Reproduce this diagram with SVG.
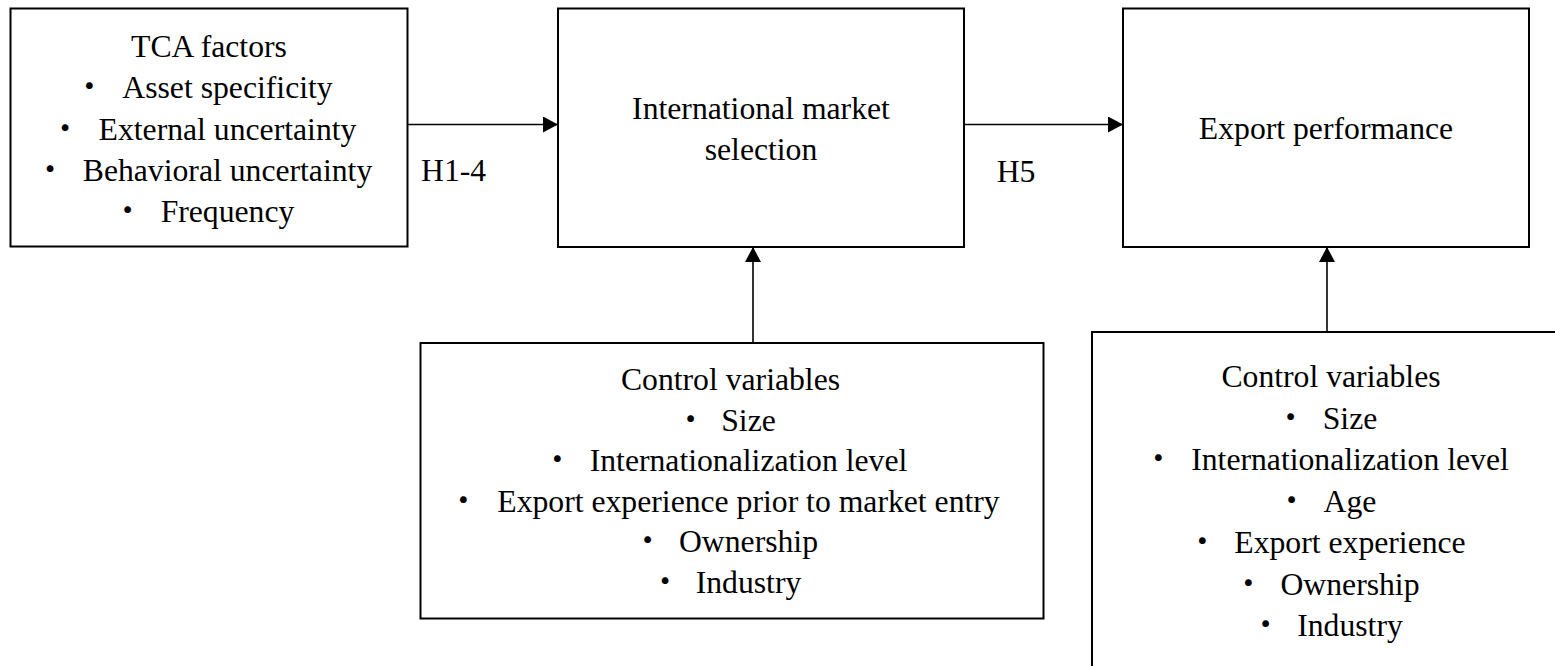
<svg xmlns="http://www.w3.org/2000/svg" width="1555" height="666" viewBox="0 0 1555 666">
<defs>
<style>
.box{fill:#fff;stroke:#000;stroke-width:2}
.t{font-family:"Liberation Serif","Times New Roman","Noto Sans CJK JP",serif;font-size:31.7px;fill:#000}
.c{text-anchor:middle}
.b{font-family:"Noto Sans CJK JP","Liberation Serif",serif;font-size:31.7px;text-anchor:middle;fill:#000}
.con{stroke:#000;stroke-width:1.6;fill:none;marker-end:url(#ah)}
</style>
<marker id="ah" markerUnits="userSpaceOnUse" markerWidth="16" markerHeight="16" viewBox="0 0 15 16" refX="15" refY="8" orient="auto">
<path d="M0,0 L15,8 L0,16 z" fill="#000"/>
</marker>
</defs>
<rect width="1555" height="666" fill="#fff"/>

<g id="tca">
<rect class="box" x="10.5" y="8.5" width="397" height="238"/>
<text class="t c" x="209" y="56.5">TCA factors</text>
<text class="b" x="89.3" y="98">・</text><text class="t c" x="227.5" y="98">Asset specificity</text>
<text class="b" x="65" y="139.5">・</text><text class="t c" x="227.5" y="139.5">External uncertainty</text>
<text class="b" x="50" y="181">・</text><text class="t c" x="227.5" y="181">Behavioral uncertainty</text>
<text class="b" x="127.7" y="222">・</text><text class="t c" x="227.5" y="222">Frequency</text>
</g>

<g id="ims">
<rect class="box" x="558" y="8.5" width="406" height="238.5"/>
<text class="t c" x="761" y="118.5">International market</text>
<text class="t c" x="761" y="159.5">selection</text>
</g>

<g id="ep">
<rect class="box" x="1123" y="8.5" width="406" height="238.5"/>
<text class="t c" x="1326" y="138.5">Export performance</text>
</g>

<g id="ctrl1">
<rect class="box" x="420.5" y="343" width="623" height="275.5"/>
<text class="t c" x="730.5" y="390">Control variables</text>
<text class="b" x="690.7" y="430.5">・</text><text class="t c" x="748.5" y="430.5">Size</text>
<text class="b" x="557.3" y="471">・</text><text class="t c" x="748.5" y="471">Internationalization level</text>
<text class="b" x="463.3" y="511.5">・</text><text class="t c" x="748.5" y="511.5">Export experience prior to market entry</text>
<text class="b" x="647.7" y="552">・</text><text class="t c" x="748.5" y="552">Ownership</text>
<text class="b" x="665" y="592.5">・</text><text class="t c" x="748.5" y="592.5">Industry</text>
</g>

<g id="ctrl2">
<rect class="box" x="1092" y="332" width="478" height="360"/>
<text class="t c" x="1331" y="387">Control variables</text>
<text class="b" x="1290.7" y="428.5">・</text><text class="t c" x="1350" y="428.5">Size</text>
<text class="b" x="1158.3" y="470">・</text><text class="t c" x="1350" y="470">Internationalization level</text>
<text class="b" x="1291.7" y="511.5">・</text><text class="t c" x="1350" y="511.5">Age</text>
<text class="b" x="1202.3" y="553">・</text><text class="t c" x="1350" y="553">Export experience</text>
<text class="b" x="1248.3" y="594.5">・</text><text class="t c" x="1350" y="594.5">Ownership</text>
<text class="b" x="1265.7" y="636">・</text><text class="t c" x="1350" y="636">Industry</text>
</g>

<g id="connectors">
<line class="con" x1="407.5" y1="124.5" x2="558" y2="124.5"/>
<line class="con" x1="964" y1="124.5" x2="1123" y2="124.5"/>
<line class="con" x1="753" y1="343" x2="753" y2="247"/>
<line class="con" x1="1327" y1="332" x2="1327" y2="247"/>
<text class="t" x="421" y="181">H1-4</text>
<text class="t" x="996.7" y="181.5">H5</text>
</g>
</svg>
